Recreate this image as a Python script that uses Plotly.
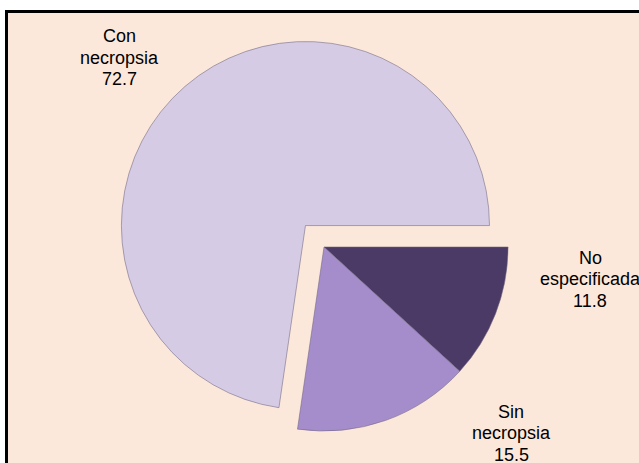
import plotly.graph_objects as go

# Data (percentages)
labels = ["Con necropsia", "Sin necropsia", "No especificada"]
values = [72.7, 15.5, 11.8]
colors = ["#D5CBE5", "#A58DCB", "#4B3966"]
pulls = [0.154, 0, 0]

W, H = 639, 463

fig = go.Figure()

# clockwise from 3 o'clock: No especificada, Sin necropsia, then Con necropsia
fig.add_trace(go.Pie(
    labels=labels[::-1],
    values=values[::-1],
    sort=False,
    direction="clockwise",
    rotation=90,
    pull=pulls[::-1],
    marker=dict(colors=colors[::-1], line=dict(color="rgba(110,100,125,0.55)", width=1)),
    textinfo="none",
    hoverinfo="label+value",
    domain=dict(x=[24 / W, 624 / W], y=[3.6 / H, 428.4 / H]),
    showlegend=False,
))

# Peach panel with black frame (cropped on right and bottom)
fig.add_shape(
    type="rect", xref="paper", yref="paper",
    x0=6.5 / W, x1=1.05, y0=-0.05, y1=(H - 11.5) / H,
    fillcolor="#FCE8DA", line=dict(color="black", width=3),
    layer="below",
)

# Slice labels, one annotation per line (tighter leading than plotly's default)
label_pos = [(119, 57.5), (511, 433), (590, 279)]
line_gap = 21.5
for lab, val, (px, py) in zip(labels, values, label_pos):
    lines = lab.split(" ") + [f"{val:.1f}"]
    for k, txt in enumerate(lines):
        ly = py + (k - (len(lines) - 1) / 2) * line_gap
        fig.add_annotation(
            x=px / W, y=(H - ly) / H, xref="paper", yref="paper",
            text=txt, showarrow=False, xanchor="center", yanchor="middle",
            font=dict(family="Arial, Liberation Sans", size=18, color="black"),
        )

fig.update_layout(
    width=W, height=H,
    margin=dict(l=0, r=0, t=0, b=0),
    paper_bgcolor="white",
    plot_bgcolor="white",
)

fig.write_html(
    "out.html",
    config={"displayModeBar": False},
    post_script="document.body.style.margin='0';document.body.style.overflow='hidden';",
)
